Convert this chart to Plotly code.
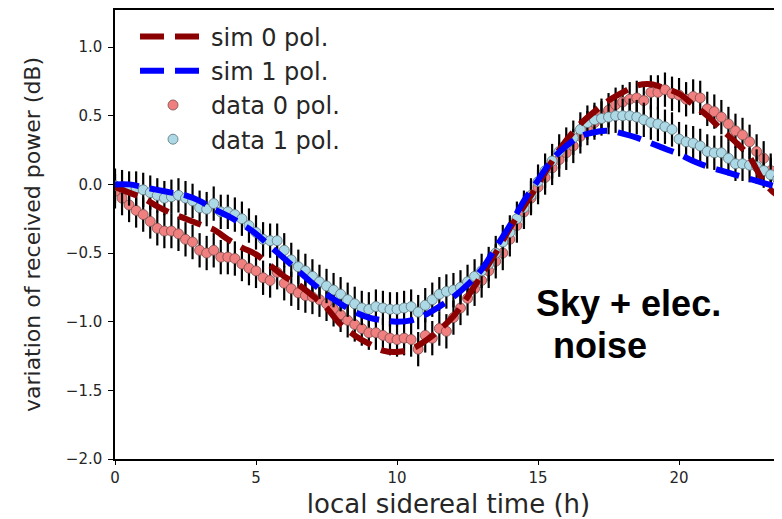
import plotly.graph_objects as go

# ---- data ----
t_data = [i * 0.25 for i in range(95)]
data0 = [-0.05, -0.10, -0.15, -0.19, -0.22, -0.27, -0.32, -0.34, -0.34, -0.36,
         -0.40, -0.42, -0.48, -0.50, -0.48, -0.53, -0.53, -0.54, -0.58, -0.61,
         -0.63, -0.68, -0.70, -0.64, -0.72, -0.76, -0.79, -0.81, -0.82, -0.84,
         -0.87, -0.91, -0.95, -0.99, -1.02, -1.05, -1.08, -1.08, -1.10, -1.12,
         -1.13, -1.12, -1.13, -1.20, -1.10, -1.12, -1.05, -1.07, -0.97, -0.90,
         -0.83, -0.76, -0.70, -0.63, -0.56, -0.50, -0.40, -0.30, -0.20, -0.10,
         -0.02, 0.05, 0.12, 0.18, 0.23, 0.28, 0.35, 0.41, 0.45, 0.50,
         0.54, 0.58, 0.60, 0.62, 0.63, 0.61, 0.67, 0.67, 0.69, 0.66,
         0.65, 0.62, 0.64, 0.63, 0.55, 0.53, 0.49, 0.44, 0.39, 0.36,
         0.31, 0.24, 0.19, 0.10, 0.04]
data1 = [-0.01, -0.02, -0.03, -0.03, -0.04, -0.06, -0.08, -0.10, -0.09, -0.08,
         -0.10, -0.12, -0.17, -0.18, -0.14, -0.20, -0.20, -0.22, -0.25, -0.30,
         -0.35, -0.40, -0.41, -0.41, -0.48, -0.55, -0.60, -0.63, -0.67, -0.71,
         -0.74, -0.77, -0.80, -0.84, -0.87, -0.90, -0.91, -0.89, -0.90, -0.91,
         -0.91, -0.90, -0.89, -0.93, -0.88, -0.84, -0.80, -0.78, -0.77, -0.75,
         -0.71, -0.67, -0.63, -0.58, -0.50, -0.42, -0.35, -0.25, -0.17, -0.08,
         0.02, 0.10, 0.17, 0.24, 0.29, 0.34, 0.40, 0.45, 0.47, 0.48,
         0.49, 0.50, 0.50, 0.50, 0.49, 0.47, 0.45, 0.44, 0.42, 0.40,
         0.33, 0.31, 0.30, 0.28, 0.24, 0.23, 0.23, 0.19, 0.15, 0.15,
         0.14, 0.13, 0.10, 0.07, 0.04]
err = 0.125

t_sim = [i * 0.5 for i in range(49)]
sim0 = [-0.02, -0.06, -0.10, -0.16, -0.21, -0.25, -0.29, -0.33, -0.40, -0.46,
        -0.51, -0.59, -0.67, -0.73, -0.81, -0.90, -1.02, -1.10, -1.16, -1.21,
        -1.22, -1.20, -1.14, -1.06, -0.96, -0.82, -0.66, -0.50, -0.32, -0.16,
        0.00, 0.17, 0.32, 0.44, 0.53, 0.61, 0.67, 0.72, 0.73, 0.70,
        0.66, 0.58, 0.50, 0.40, 0.31, 0.20, 0.02, -0.08, -0.10]
sim1 = [0.00, 0.00, -0.02, -0.04, -0.06, -0.08, -0.12, -0.18, -0.23, -0.29,
        -0.36, -0.45, -0.54, -0.63, -0.72, -0.80, -0.87, -0.93, -0.97, -0.99,
        -1.00, -0.99, -0.95, -0.89, -0.82, -0.73, -0.62, -0.46, -0.30, -0.12,
        0.03, 0.18, 0.28, 0.35, 0.38, 0.39, 0.37, 0.34, 0.30, 0.26,
        0.22, 0.17, 0.13, 0.10, 0.07, 0.04, 0.01, -0.02, -0.04]

y_ticks = [-2.0, -1.5, -1.0, -0.5, 0.0, 0.5, 1.0]
x_ticks = [0, 5, 10, 15, 20]

fig = go.Figure()

fig.add_trace(go.Scatter(
    x=t_data, y=data0, mode="markers", name="data 0 pol.", legendrank=3,
    marker=dict(size=10, color="#F08080", line=dict(color="#7a4a4a", width=0.8)),
    error_y=dict(type="constant", value=err, color="black", thickness=2.2, width=0),
))
fig.add_trace(go.Scatter(
    x=t_data, y=data1, mode="markers", name="data 1 pol.", legendrank=4,
    marker=dict(size=10, color="#ADD8E6", line=dict(color="#5a7278", width=0.8)),
    error_y=dict(type="constant", value=err, color="black", thickness=2.2, width=0),
))
fig.add_trace(go.Scatter(
    x=t_sim, y=sim0, mode="lines", name="sim 0 pol.", legendrank=1,
    line=dict(color="#8B0000", width=6, dash="24px,11px", shape="spline"),
))
fig.add_trace(go.Scatter(
    x=t_sim, y=sim1, mode="lines", name="sim 1 pol.", legendrank=2,
    line=dict(color="#0000FF", width=6, dash="24px,11px", shape="spline"),
))

ann_font = dict(family="Liberation Sans, Arial", size=36, color="black")
fig.add_annotation(
    x=14.85, y=-1.03, xref="x", yref="y", xanchor="left", yanchor="bottom",
    text="<b>Sky + elec.</b>", align="left", showarrow=False, font=ann_font,
)
fig.add_annotation(
    x=15.45, y=-1.335, xref="x", yref="y", xanchor="left", yanchor="bottom",
    text="<b>noise</b>", align="left", showarrow=False, font=ann_font,
)

# the page adds an 8px body margin, so the figure is sized/offset to compensate
fig.update_layout(
    width=774, height=511,
    margin=dict(l=107, r=0, t=2, b=60, autoexpand=False),
    paper_bgcolor="white", plot_bgcolor="white",
    font=dict(family="DejaVu Sans", color="#262626"),
    showlegend=True,
    legend=dict(
        x=0.03, y=0.99, xanchor="left", yanchor="top",
        bgcolor="rgba(255,255,255,0)", font=dict(size=24, color="#262626"),
        itemwidth=66, tracegroupgap=0,
    ),
    xaxis=dict(
        range=[0, 23.65], tickvals=x_ticks, ticks="outside", ticklen=4,
        tickwidth=1, tickcolor="black", showgrid=False, zeroline=False,
        showline=True, linecolor="black", linewidth=1.5, mirror=True,
        automargin=False,
        tickfont=dict(size=15, color="#262626"),
        title=dict(text="local sidereal time (h)", font=dict(size=26, color="#262626"), standoff=10),
    ),
    yaxis=dict(
        range=[-2.0, 1.27], tickvals=y_ticks, tickformat=".1f", ticks="outside",
        ticklen=5, tickwidth=1, tickcolor="black", showgrid=False, zeroline=False,
        showline=True, linecolor="black", linewidth=1.5, mirror=False,
        automargin=False, ticklabelstandoff=3,
        tickfont=dict(size=15, color="#262626"),
        title=dict(text="variation of received power (dB)", font=dict(size=22, color="#262626"), standoff=19),
    ),
)

fig.write_html("out.html")
